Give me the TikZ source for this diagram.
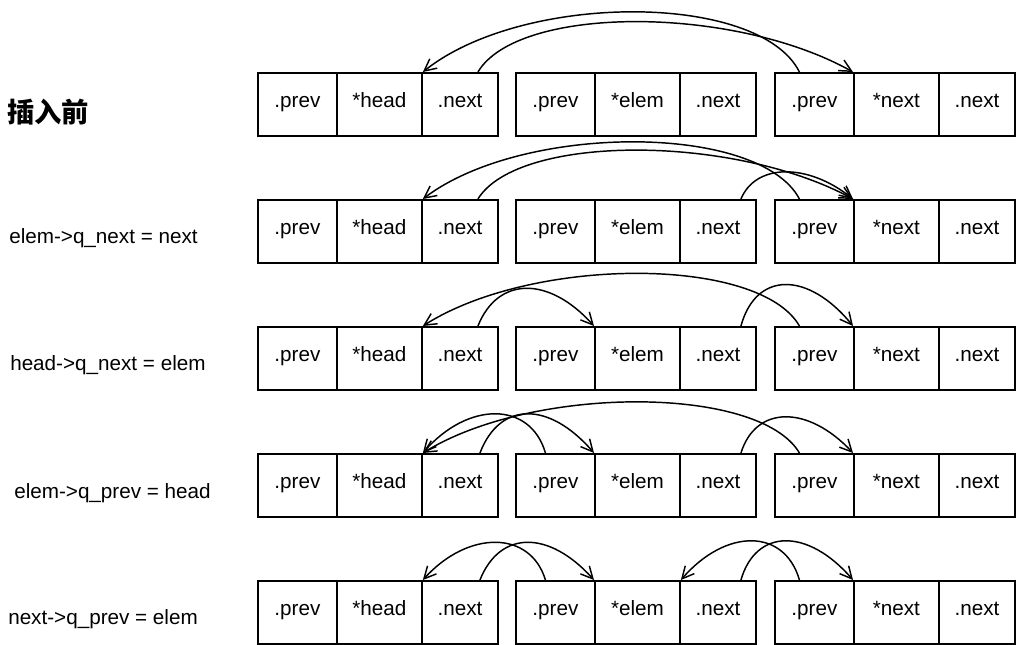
\documentclass[tikz,border=0pt]{standalone}
\usepackage{fontspec}
\setmainfont{Liberation Sans}
\newfontfamily\cjk{Noto Sans CJK SC}
\usetikzlibrary{arrows.meta,calc}
\def\U{0.75pt}
\tikzset{
  cell/.style={draw,line width=1.4pt,inner sep=0pt,minimum height=63*\U,anchor=north west,
    text height=0.72em,text depth=0.2em,font=\fontsize{15.5}{18}\selectfont},
  lab/.style={anchor=west,inner sep=0pt,font=\fontsize{15.5}{18}\selectfont},
  ptr/.style={line width=1.1pt,-{Straight Barb[length=9pt,width=9pt,line width=1.1pt]}}
}
\newcommand\mkrow[2]{%
  \foreach \g/\gx/\t in {a/257/{*head},b/515/{*elem},c/774/{*next}}{
    \node[cell,minimum width=79*\U] (r#1\g1) at (\gx,#2) {.prev};
    \node[cell,minimum width=85*\U] (r#1\g2) at (\gx+79,#2) {\t};
    \node[cell,minimum width=76*\U] (r#1\g3) at (\gx+164,#2) {.next};
  }}
\begin{document}
\begin{tikzpicture}[x=0.75pt,y=-0.75pt]
\useasboundingbox (0,0) rectangle (1016,644);
% labels
\node[lab] (l1) at (7,112) {\cjk\bfseries\fontsize{20.5}{24}\selectfont 插入前};
\node[lab] (l2) at (9,238) {elem->q\_next = next};
\node[lab] (l3) at (10,365) {head->q\_next = elem};
\node[lab] (l4) at (14,493) {elem->q\_prev = head};
\node[lab] (l5) at (8,619) {next->q\_prev = elem};
% rows of cells
\mkrow{1}{72}
\mkrow{2}{199}
\mkrow{3}{326}
\mkrow{4}{453}
\mkrow{5}{580}
% row 1
\draw[ptr] ($(r1a3.north)+(18,0)$) .. controls +(40,-67) and +(-120,-67) .. (r1c2.north west);
\draw[ptr] ($(r1c1.north)+(-15,0)$) .. controls +(-40,-80) and +(100,-80) .. (r1a2.north east);
% row 2
\draw[ptr] ($(r2a3.north)+(18,0)$) .. controls +(40,-65) and +(-120,-65) .. (r2c2.north west);
\draw[ptr] ($(r2c1.north)+(-15,0)$) .. controls +(-40,-76) and +(100,-76) .. (r2a2.north east);
\draw[ptr] ($(r2b3.north)+(23,0)$) .. controls +(15,-36) and +(-45,-36) .. (r2c2.north west);
% row 3
\draw[ptr] ($(r3a3.north)+(18,0)$) .. controls +(20,-50) and +(-45,-50) .. (r3b2.north west);
\draw[ptr] ($(r3c1.north)+(-15,0)$) .. controls +(-40,-70) and +(110,-70) .. (r3a2.north east);
\draw[ptr] ($(r3b3.north)+(23,0)$) .. controls +(15,-55) and +(-45,-55) .. (r3c2.north west);
% row 4
\draw[ptr] ($(r4a3.north)+(20,0)$) .. controls +(20,-52) and +(-45,-52) .. (r4b2.north west);
\draw[ptr] ($(r4b1.north)+(-10,0)$) .. controls +(-15,-52) and +(45,-52) .. (r4a2.north east);
\draw[ptr] ($(r4c1.north)+(-15,0)$) .. controls +(-40,-68) and +(110,-68) .. (r4a2.north east);
\draw[ptr] ($(r4b3.north)+(23,0)$) .. controls +(15,-48) and +(-45,-48) .. (r4c2.north west);
% row 5
\draw[ptr] ($(r5a3.north)+(20,0)$) .. controls +(20,-50) and +(-45,-50) .. (r5b2.north west);
\draw[ptr] ($(r5b1.north)+(-10,0)$) .. controls +(-15,-50) and +(45,-50) .. (r5a2.north east);
\draw[ptr] ($(r5b3.north)+(23,0)$) .. controls +(15,-52) and +(-45,-52) .. (r5c2.north west);
\draw[ptr] ($(r5c1.north)+(-15,0)$) .. controls +(-15,-52) and +(45,-52) .. (r5b2.north east);
\end{tikzpicture}
\end{document}
